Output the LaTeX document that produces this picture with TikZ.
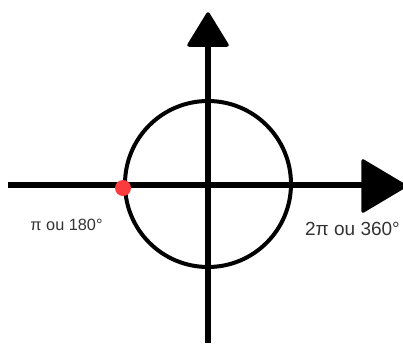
\documentclass[tikz,border=0pt]{standalone}
\usepackage{fontspec}
\setmainfont{Liberation Sans}
\definecolor{dotred}{RGB}{250,60,60}
\definecolor{labelgray}{RGB}{51,51,51}
\begin{document}
\begin{tikzpicture}[x=1pt,y=-1pt,
  axis/.style={line width=6.5pt},
  head/.style={fill=black,draw=black,line width=3.5pt,line join=round},
  lbl/.style={text=labelgray,anchor=base,inner sep=0pt}]
\useasboundingbox (0,0) rectangle (403,343);
\clip (0,0) rectangle (403,343);
\coordinate (O) at (208,185);
\coordinate (L) at (8,185);
\coordinate (R) at (363,185);
\coordinate (T) at (208,46);
\coordinate (B) at (208,343);
\draw[axis] (L) -- (R);
\draw[axis] (B) -- (T);
\filldraw[head] (208,14) -- (189,45) -- (227,45) -- cycle;
\filldraw[head] (363,161) -- (405,186) -- (363,211) -- cycle;
\draw[line width=4pt] (208,184) circle[radius=83];
\node[circle,fill=dotred,minimum size=16pt,inner sep=0pt] (dot) at (123,188) {};
\node[lbl,font=\fontsize{16.3}{18}\selectfont] (pi) at (66.5,230) {π ou 180°};
\node[lbl,font=\fontsize{19}{21}\selectfont] (twopi) at (352.5,235) {2π ou 360°};
\end{tikzpicture}
\end{document}
